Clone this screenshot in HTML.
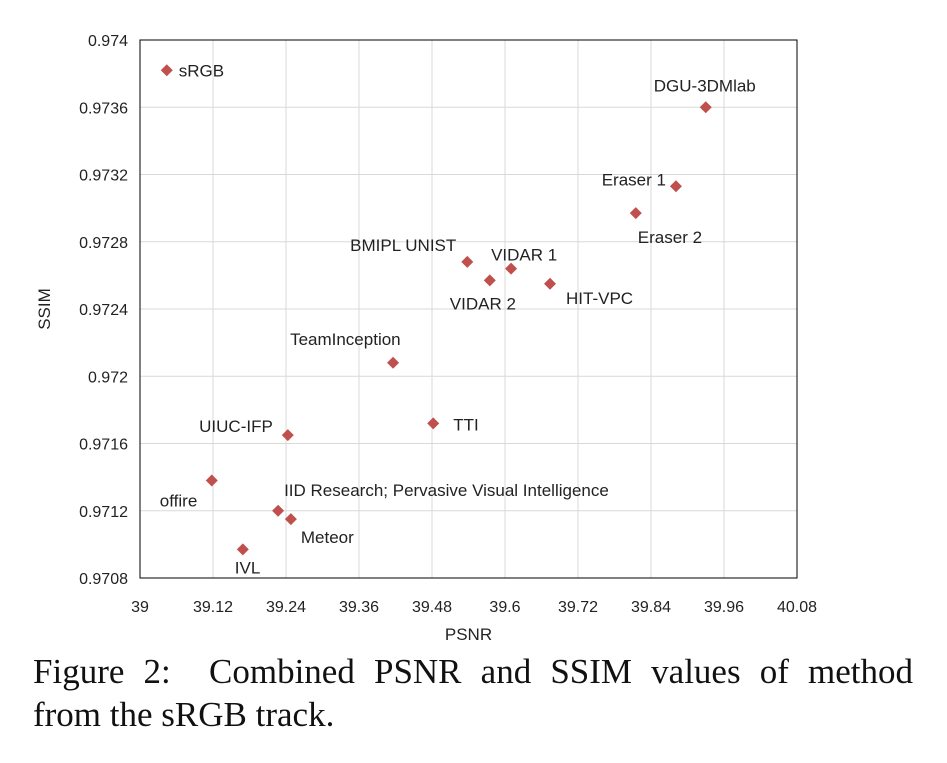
<!DOCTYPE html>
<html><head><meta charset="utf-8">
<style>
body{margin:0;background:#fff;width:947px;height:763px;overflow:hidden}
svg text{font-family:"Liberation Sans",sans-serif}
.cap{position:absolute;left:33px;font-family:"Liberation Serif",serif;font-size:35px;line-height:42px;color:#111;white-space:nowrap}
.l1{top:651px;width:880px;text-align:justify;text-align-last:justify}
.l2{top:694px}
</style></head><body>
<svg id="chart" width="947" height="650" style="position:absolute;left:0;top:0"></svg>
<div class="cap l1">Figure 2:&nbsp; Combined PSNR and SSIM values of method</div>
<div class="cap l2">from the sRGB track.</div>
<script>
const names=["sRGB","DGU-3DMlab","Eraser 1","Eraser 2","BMIPL UNIST","VIDAR 1","VIDAR 2","HIT-VPC","TeamInception","TTI","UIUC-IFP","offire","IID Research; Pervasive Visual Intelligence","Meteor","IVL"];
const psnr=[39.044,39.930,39.881,39.815,39.538,39.610,39.575,39.674,39.416,39.482,39.243,39.118,39.227,39.248,39.169];
const ssim=[0.97382,0.97360,0.97313,0.97297,0.97268,0.97264,0.97257,0.97255,0.97208,0.97172,0.97165,0.97138,0.97120,0.97115,0.97097];
const xTicks=["39","39.12","39.24","39.36","39.48","39.6","39.72","39.84","39.96","40.08"];
const yTicks=["0.974","0.9736","0.9732","0.9728","0.9724","0.972","0.9716","0.9712","0.9708"];
const labelOff=[[12,6,"start"],[-52,-16,"start"],[-10,-1,"end"],[2,30,"start"],[-11,-11,"end"],[-20,-8,"start"],[-40,29,"start"],[16,20,"start"],[-103,-18,"start"],[20,7,"start"],[-15,-3,"end"],[-52,26,"start"],[6,-15,"start"],[10,24,"start"],[-8,24,"start"]];
const L=140,R=797,T=40,B=578;
const sx=v=>L+(v-39)/1.08*(R-L);
const sy=v=>T+(0.974-v)/0.0032*(B-T);
const svg=document.getElementById('chart');const NS="http://www.w3.org/2000/svg";
function mk(t,a){const e=document.createElementNS(NS,t);for(const k in a)e.setAttribute(k,a[k]);svg.appendChild(e);return e;}
xTicks.forEach((t,i)=>{const x=sx(+t);
const g=mk('line',{x1:x,x2:x,y1:T,y2:B,stroke:'#d9d9d9'});

const tx=mk('text',{x:x,y:B+34,'text-anchor':'middle','font-size':16,fill:'#222'});tx.textContent=t;
});
yTicks.forEach(t=>{const y=sy(+t);
const g=mk('line',{x1:L,x2:R,y1:y,y2:y,stroke:'#d9d9d9'});

const tx=mk('text',{x:L-12,y:y+6,'text-anchor':'end','font-size':16,fill:'#222'});tx.textContent=t;
});
const fr=mk('rect',{x:L,y:T,width:R-L,height:B-T,fill:'none',stroke:'#000','stroke-width':1});

const xt=mk('text',{x:(L+R)/2,y:640,'text-anchor':'middle','font-size':17,fill:'#222'});xt.textContent="PSNR";

const yt=mk('text',{x:0,y:0,'text-anchor':'middle','font-size':17,fill:'#222',transform:`translate(50,${(T+B)/2}) rotate(-90)`});yt.textContent="SSIM";

names.forEach((n,i)=>{const x=sx(psnr[i]),y=sy(ssim[i]);
const p=mk('polygon',{points:`${x},${y-6} ${x+6},${y} ${x},${y+6} ${x-6},${y}`,fill:'#c0504d'});


const o=labelOff[i];
const t=mk('text',{x:x+o[0],y:y+o[1],'text-anchor':o[2],'font-size':17,fill:'#222'});t.textContent=n;
});
</script>
</body></html>
